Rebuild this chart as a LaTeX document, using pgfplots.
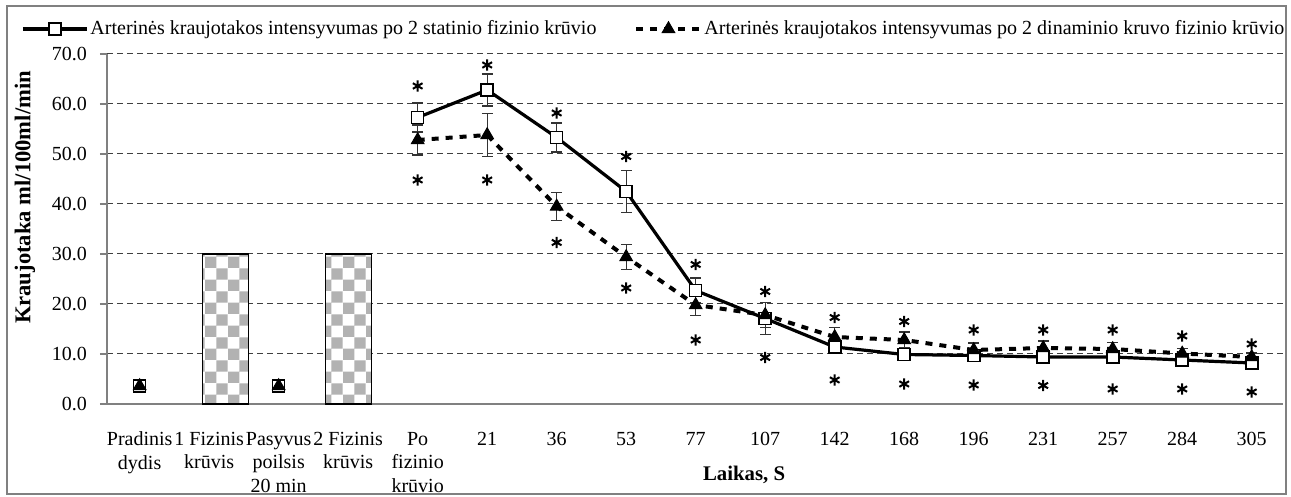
\documentclass[border=0pt]{standalone}
\usepackage{fontspec}
\setmainfont{Liberation Serif}
\usepackage{pgfplots}
\pgfplotsset{compat=1.18}
\usetikzlibrary{patterns}
\newcommand\legfont{\fontsize{10}{12}\selectfont}
\newcommand\xtfont{\fontsize{10}{11.8}\selectfont}
\newcommand\ytfont{\fontsize{10}{12}\selectfont}

\begin{document}
\begin{tikzpicture}
\begin{axis}[
    scale only axis,
    width=588pt, height=175pt,
    xmin=-0.47, xmax=16.45,
    ymin=0, ymax=70,
    ytick={0,10,...,70},
    xtick={0,...,16},
    xticklabels={{Pradinis\\dydis},{1 Fizinis\\krūvis},{Pasyvus\\poilsis\\20 min},{2 Fizinis\\krūvis},{Po\\fizinio\\krūvio},21,36,53,77,107,142,168,196,231,257,284,305},
    xticklabel style={align=center, anchor=north, yshift=-7pt, font=\xtfont},
    yticklabel style={font=\ytfont, xshift=-3pt},
    /pgf/number format/assume math mode=true,
    yticklabel={\pgfmathprintnumber[fixed,fixed zerofill,precision=1]{\tick}},
    axis x line*=bottom, axis y line*=left,
    axis line style={gray, line width=0.8pt, -},
    tick align=outside,
    major tick length=3.5pt,
    ytick style={gray, line width=0.6pt},
    xtick style={draw=none},
    ymajorgrids,
    grid style={black!75, dash pattern=on 3pt off 2pt, line width=0.5pt},
    unbounded coords=jump,
    clip=false,
    legend columns=2,
    legend style={draw=none, fill=none, font=\legfont, at={(0.465,1)}, anchor=center, yshift=12.5pt,
        nodes={inner sep=1pt},
        /tikz/every even column/.append style={column sep=18pt}, inner sep=0pt},
    legend image code/.code={\draw[#1, mark repeat=2, mark phase=2] plot coordinates {(0pt,0pt) (16pt,0pt) (32pt,0pt)};},
]
\coordinate (SW) at (rel axis cs:0,0);
\coordinate (NE) at (rel axis cs:1,1);

% checkerboard bars (load periods)
\addplot[ybar, bar width=23pt, draw=black, line width=0.8pt, fill=white,
    postaction={pattern=checkerboard, pattern color=gray!60}, forget plot]
    coordinates {(1.236,30) (3.005,30)};

% static load
\addplot[black, line width=1.6pt, mark=square*, mark size=3pt,
    mark options={fill=white, line width=0.8pt, solid},
    error bars/.cd, y dir=both, y explicit,
    error bar style={line width=0.6pt, black!80, solid},
    error mark options={rotate=90, mark size=2.7pt, line width=0.6pt, black!80}]
    table[x=x, y=y, y error=e] {
x y e
0 3.6 0
1 nan 0
2 3.6 0
3 nan 0
4 57.3 2.9
5 62.8 3.2
6 53.3 2.9
7 42.5 4.2
8 22.7 2.5
9 17.1 3.2
10 11.4 1.0
11 9.9 0.8
12 9.7 0.8
13 9.4 0.7
14 9.4 0.7
15 8.8 0.6
16 8.2 0.6
};
\addlegendentry{Arterinės kraujotakos intensyvumas po 2 statinio fizinio krūvio}

% dynamic load
\addplot[black, line width=2pt, dash pattern=on 3.5pt off 3.5pt, mark=triangle*, mark size=3.6pt,
    mark options={fill=black, solid, line width=0.5pt},
    error bars/.cd, y dir=both, y explicit,
    error bar style={line width=0.6pt, black!80, solid},
    error mark options={rotate=90, mark size=2.7pt, line width=0.6pt, black!80, solid}]
    table[x=x, y=y, y error=e] {
x y e
0 3.6 0
1 nan 0
2 3.6 0
3 nan 0
4 52.8 3.0
5 53.8 4.3
6 39.5 2.8
7 29.4 2.5
8 19.8 2.1
9 17.8 2.5
10 13.4 1.9
11 12.8 1.6
12 10.8 1.4
13 11.2 1.4
14 11.0 1.3
15 10.1 1.0
16 9.4 0.8
};
\addlegendentry{Arterinės kraujotakos intensyvumas po 2 dinaminio kruvo fizinio krūvio}

% significance marks
\addplot[only marks, mark=asterisk, mark size=2.8pt, mark options={line width=1pt}, forget plot]
    coordinates {(4,63.6) (5,67.8) (6,58.2) (7,49.5) (8,27.9) (9,22.5) (10,17.3) (11,16.5)
                 (12,14.8) (13,14.8) (14,14.8) (15,13.6) (16,12.0)};
\addplot[only marks, mark=asterisk, mark size=2.8pt, mark options={line width=1pt}, forget plot]
    coordinates {(4,44.8) (5,44.8) (6,32.3) (7,23.2) (8,12.8) (9,9.3) (10,4.8) (11,4.0)
                 (12,3.8) (13,3.7) (14,3.0) (15,3.0) (16,2.4)};

\node[font=\fontsize{11.3}{13}\selectfont\bfseries, rotate=90] at ([xshift=-41pt]rel axis cs:0,0.59) {Kraujotaka ml/100ml/min};
\node[font=\fontsize{10.4}{12}\selectfont\bfseries] at ([yshift=-35.5pt]rel axis cs:0.5417,0) {Laikas, S};
\end{axis}
\pgfresetboundingbox
\path[use as bounding box] ([xshift=-53.5pt,yshift=-46.5pt]SW) rectangle ([xshift=4pt,yshift=27pt]NE);
\draw[gray, line width=0.8pt] ([xshift=-50pt,yshift=-45pt]SW) rectangle ([xshift=1.5pt,yshift=24pt]NE);
\end{tikzpicture}
\end{document}
